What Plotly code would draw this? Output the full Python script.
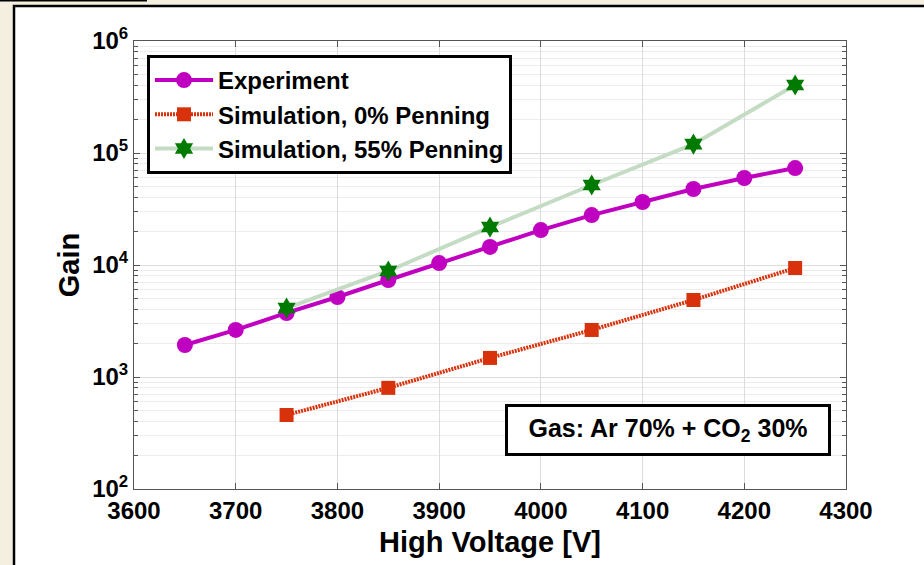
import plotly.graph_objects as go

# Gain vs. high voltage, Ar 70% + CO2 30%
hv_exp = [3650, 3700, 3750, 3800, 3850, 3900, 3950, 4000, 4050, 4100, 4150, 4200, 4250]
gain_exp = [1930, 2630, 3730, 5180, 7350, 10400, 14500, 20500, 27900, 36500, 47700, 59800, 73400]

hv_sim = [3750, 3850, 3950, 4050, 4150, 4250]
gain_sim_0 = [458, 800, 1480, 2630, 4870, 9400]
gain_sim_55 = [4130, 8840, 21800, 51800, 120000, 405000]

x_ticks = [3600, 3700, 3800, 3900, 4000, 4100, 4200, 4300]
y_tick_vals = [1e2, 1e3, 1e4, 1e5, 1e6]
y_tick_text = ["10<sup>2</sup>", "10<sup>3</sup>", "10<sup>4</sup>", "10<sup>5</sup>", "10<sup>6</sup>"]
y_minor_vals = [m * 10 ** e for e in range(2, 6) for m in range(2, 10)]

FONT = "Liberation Sans, Arial, sans-serif"
L, R, T, B = 134, 78, 41, 76
W, H = 924, 565
PW, PH = W - L - R, H - T - B


def px_x(p):
    return (p - L) / PW


def px_y(p):
    return (H - B - p) / PH


fig = go.Figure()

fig.add_trace(go.Scatter(
    x=hv_exp, y=gain_exp, name="Experiment", mode="lines+markers",
    line=dict(color="#c000c0", width=4),
    marker=dict(symbol="circle", size=16, color="#c000c0"),
))
fig.add_trace(go.Scatter(
    x=hv_sim, y=gain_sim_0, name="Simulation, 0% Penning", mode="lines+markers",
    line=dict(color="#d8320c", width=4, dash="2px,1px"),
    marker=dict(symbol="square", size=14, color="#d8320c"),
))
fig.add_trace(go.Scatter(
    x=hv_sim, y=gain_sim_55, name="Simulation, 55% Penning", mode="lines+markers",
    line=dict(color="#c4dcc4", width=4),
    marker=dict(symbol="hexagram", size=16, color="#007a00"),
))

# framed page background
fig.add_shape(type="rect", xref="paper", yref="paper", layer="below",
              x0=px_x(14), x1=px_x(940), y0=px_y(580), y1=px_y(6),
              fillcolor="white", line=dict(color="black", width=2.5))
fig.add_shape(type="line", xref="paper", yref="paper",
              x0=px_x(0), x1=px_x(147), y0=px_y(0.5), y1=px_y(0.5),
              line=dict(color="black", width=2))

fig.add_annotation(
    xref="paper", yref="paper", x=px_x(668), y=px_y(430),
    text="Gas: Ar 70% + CO<sub>2</sub> 30%", showarrow=False,
    font=dict(family=FONT, size=25, color="black", weight="bold"),
    bgcolor="white", bordercolor="black", borderwidth=3,
    width=318, height=44, xanchor="center", yanchor="middle",
)

axis_common = dict(
    showline=True, linecolor="#555555", linewidth=1, mirror="allticks",
    ticks="inside", tickcolor="#555555", ticklen=6,
    gridcolor="#dcdcdc", gridwidth=1, zeroline=False,
    tickfont=dict(family=FONT, size=24, color="black", weight="bold"),
)

fig.update_xaxes(
    range=[3600, 4300], tickvals=x_ticks, **axis_common,
    title=dict(text="High Voltage [V]", standoff=8,
               font=dict(family=FONT, size=29, color="black", weight="bold")),
)
fig.update_yaxes(
    type="log", range=[2, 6], tickvals=y_tick_vals, ticktext=y_tick_text, **axis_common,
    minor=dict(tickvals=y_minor_vals, ticks="inside", ticklen=4, tickcolor="#555555",
               showgrid=True, gridcolor="#ececec", gridwidth=1),
    title=dict(text="Gain", standoff=4,
               font=dict(family=FONT, size=29, color="black", weight="bold")),
)

fig.update_layout(
    width=W, height=H,
    margin=dict(l=L, r=R, t=T, b=B),
    paper_bgcolor="#f5efdf", plot_bgcolor="white",
    showlegend=True,
    legend=dict(
        x=px_x(147), y=px_y(55), xanchor="left", yanchor="top",
        bgcolor="white", bordercolor="black", borderwidth=3,
        font=dict(family=FONT, size=24, color="black", weight="bold"),
        tracegroupgap=0, itemwidth=58,
    ),
)

fig.write_html("out.html")
